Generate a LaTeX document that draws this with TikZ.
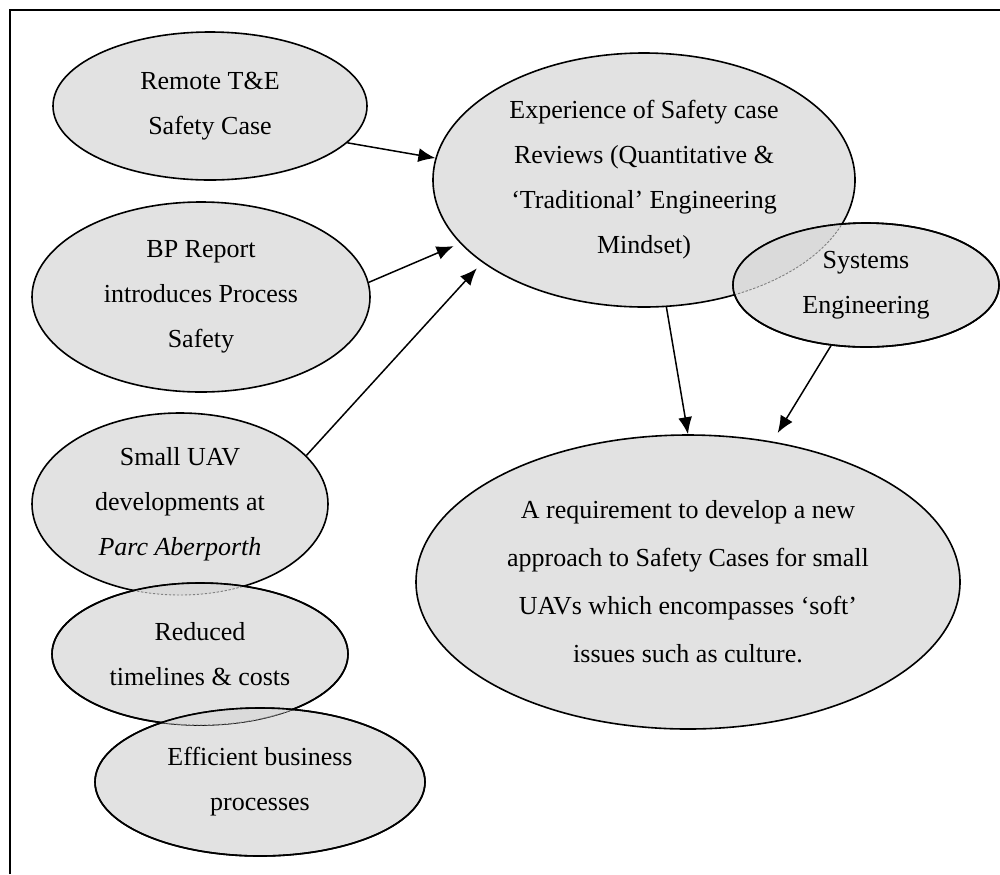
\documentclass[tikz,border=0pt]{standalone}
\usepackage{fontspec}
\setmainfont{Liberation Serif}
\usetikzlibrary{shapes.geometric,arrows.meta}
\definecolor{ovalfill}{gray}{0.885}
\definecolor{ovalshade}{gray}{0.855}
\definecolor{seam}{gray}{0.5}
\begin{document}
\begin{tikzpicture}[x=0.5pt,y=-0.5pt,
  oval/.style={ellipse, draw=black, line width=0.8pt, fill=ovalfill,
    inner sep=0pt, align=center, font=\fontsize{13}{22.5}\selectfont},
  link/.style={-{Latex[length=8.5pt,width=7pt]}, line width=0.75pt},
  seamline/.style={draw=seam, dash pattern=on 1.2pt off 0.8pt, line width=0.45pt},
  rim/.style={draw=black, line width=0.8pt}]
\useasboundingbox (0,0) rectangle (1000,874);

% page frame (top and left rules)
\draw[line width=1pt] (10,874) -- (10,10) -- (1000,10);

% left-hand column of influences
\node[oval, minimum width=157pt, minimum height=74pt] (rem) at (210,106)
  {Remote T\&E\\Safety Case};
\node[oval, minimum width=169pt, minimum height=95pt] (bp) at (201,297)
  {BP Report\\introduces Process\\Safety};
\node[oval, minimum width=148pt, minimum height=91pt] (uav) at (180,504)
  {Small UAV\\developments at\\\textit{Parc Aberporth}};
\node[oval, minimum width=148pt, minimum height=71pt] (red) at (200,654)
  {Reduced\\timelines \& costs};
\node[oval, minimum width=165pt, minimum height=74pt] (eff) at (260,782)
  {Efficient business\\processes};

% central review experience and systems engineering
\node[oval, minimum width=211pt, minimum height=127pt] (exp) at (644,180)
  {Experience of Safety case\\Reviews (Quantitative \&\\`Traditional' Engineering\\Mindset)};
\node[oval, minimum width=133pt, minimum height=62pt] (sys) at (866,285)
  {Systems\\Engineering};

% outcome
\node[oval, minimum width=272pt, minimum height=147pt,
      font=\fontsize{13}{24}\selectfont] (req) at (688,582)
  {A requirement to develop a new\\approach to Safety Cases for small\\UAVs which encompasses `soft'\\issues such as culture.};

% overlapping regions: hidden rim shows through as a faint seam
\begin{scope}
  \clip (sys.center) ellipse [x radius=66.5pt, y radius=31pt];
  \fill[ovalshade] (exp.center) ellipse [x radius=105.5pt, y radius=63.5pt];
  \draw[seamline] (exp.center) ellipse [x radius=105.5pt, y radius=63.5pt];
\end{scope}
\draw[rim] (sys.center) ellipse [x radius=66.5pt, y radius=31pt];

\begin{scope}
  \clip (red.center) ellipse [x radius=74pt, y radius=35.5pt];
  \fill[ovalshade] (uav.center) ellipse [x radius=74pt, y radius=45.5pt];
  \draw[seamline] (uav.center) ellipse [x radius=74pt, y radius=45.5pt];
\end{scope}
\draw[rim] (red.center) ellipse [x radius=74pt, y radius=35.5pt];

\begin{scope}
  \clip (eff.center) ellipse [x radius=82.5pt, y radius=37pt];
  \fill[ovalshade] (red.center) ellipse [x radius=74pt, y radius=35.5pt];
  \draw[seamline] (red.center) ellipse [x radius=74pt, y radius=35.5pt];
\end{scope}
\draw[rim] (eff.center) ellipse [x radius=82.5pt, y radius=37pt];

% connectors
\draw[link] (rem.-15) -- (exp.174);
\draw[link, shorten >=3.5pt] (bp.5) -- (exp.199);
\draw[link, shorten >=4pt] (uav.21) -- (exp.207);
\draw[link] (exp.-80) -- (req.90);
\draw[link, shorten >=5pt] (sys.-120) -- (req.59);
\end{tikzpicture}
\end{document}
